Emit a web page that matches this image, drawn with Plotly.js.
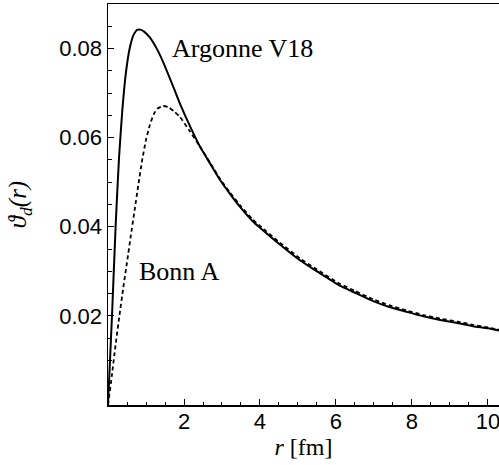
<!DOCTYPE html>
<html>
<head>
<meta charset="utf-8">
<script src="https://cdn.plot.ly/plotly-3.0.1.min.js"></script>
<style>
html,body{margin:0;padding:0;background:#fff;overflow:hidden;}
#chart{width:499px;height:465px;}
</style>
</head>
<body>
<div id="chart"></div>
<script>
// Argonne V18 (solid)
var rArgonne = [0, 0.05, 0.11, 0.2, 0.29, 0.38, 0.47, 0.57, 0.67, 0.77, 0.87, 0.95, 1.1, 1.3, 1.46, 1.7, 1.89, 2.2, 2.42, 2.7, 2.95, 3.2, 3.47, 3.8, 4.0, 4.5, 5.05, 5.5, 6.1, 6.5, 6.98, 7.4, 7.86, 8.3, 8.74, 9.2, 9.61, 10.0, 10.35];
var vArgonne = [0, 0.0095, 0.0210, 0.0400, 0.0555, 0.0665, 0.0745, 0.0800, 0.0830, 0.0842, 0.0842, 0.0838, 0.0825, 0.0797, 0.0768, 0.0718, 0.0677, 0.0618, 0.0580, 0.0540, 0.0505, 0.0475, 0.0445, 0.0413, 0.0398, 0.0362, 0.0325, 0.0300, 0.0268, 0.0252, 0.0233, 0.0220, 0.0209, 0.0199, 0.0191, 0.0184, 0.0177, 0.0172, 0.0166];
// Bonn A (dashed)
var rBonn = [0, 0.1, 0.2, 0.3, 0.4, 0.5, 0.6, 0.7, 0.8, 0.9, 1.0, 1.1, 1.2, 1.3, 1.45, 1.6, 1.75, 1.89, 2.15, 2.42, 2.7, 2.95, 3.2, 3.47, 3.8, 4.0, 4.5, 5.05, 5.5, 6.1, 6.5, 6.98, 7.4, 7.86, 8.3, 8.74, 9.2, 9.61, 10.0, 10.35];
var vBonn = [0, 0.0065, 0.0135, 0.0200, 0.0262, 0.0320, 0.0380, 0.0437, 0.0495, 0.0550, 0.0595, 0.0628, 0.0652, 0.0665, 0.0671, 0.0668, 0.0658, 0.0647, 0.0615, 0.0580, 0.0542, 0.0507, 0.0478, 0.0449, 0.0417, 0.0402, 0.0366, 0.0329, 0.0304, 0.0272, 0.0256, 0.0237, 0.0224, 0.0212, 0.0202, 0.0194, 0.0187, 0.0180, 0.0174, 0.0168];

var xTicks = [2, 4, 6, 8, 10];
var yTicks = [0.02, 0.04, 0.06, 0.08];
var yTickText = ['0.02', '0.04', '0.06', '0.08'];
var labels = ['Argonne V18', 'Bonn A'];

var traces = [
  {x: rArgonne, y: vArgonne, mode: 'lines', name: labels[0],
   line: {color: '#000', width: 2, shape: 'spline', smoothing: 0.5}},
  {x: rBonn, y: vBonn, mode: 'lines', name: labels[1],
   line: {color: '#000', width: 1.8, dash: '4px,3px', shape: 'spline', smoothing: 0.5}}
];

var axisFont = {family: 'Liberation Sans, Arial, sans-serif', size: 22, color: '#000'};
var serif = 'Liberation Serif, Times New Roman, serif';

var layout = {
  width: 499, height: 465,
  margin: {l: 108, r: 0, t: 4, b: 60, pad: 0},
  paper_bgcolor: '#fff', plot_bgcolor: '#fff',
  showlegend: false,
  xaxis: {
    range: [0, 10.29], tickvals: xTicks, ticktext: xTicks.map(String),
    ticks: 'inside', ticklen: 6, tickwidth: 1, tickcolor: '#000',
    minor: {dtick: 0.5, tick0: 0, ticks: 'inside', ticklen: 3.5, tickwidth: 1, tickcolor: '#000'},
    showline: true, linecolor: '#000', linewidth: 1.5, mirror: true,
    showgrid: false, zeroline: false, tickfont: axisFont,
    ticklabeloverflow: 'allow', ticklabelstandoff: -4,
    title: {text: '<i>r</i> [fm]', font: {family: serif, size: 24, color: '#000'}, standoff: 0}
  },
  yaxis: {
    range: [0, 0.09], tickvals: yTicks, ticktext: yTickText,
    ticks: 'inside', ticklen: 6, tickwidth: 1, tickcolor: '#000',
    minor: {dtick: 0.005, tick0: 0, ticks: 'inside', ticklen: 3.5, tickwidth: 1, tickcolor: '#000'},
    showline: true, linecolor: '#000', linewidth: 1.5, mirror: false,
    showgrid: false, zeroline: false, tickfont: axisFont,
    title: {text: '<i>ϑ<sub>d</sub>(r)</i>', font: {family: serif, size: 25, color: '#000'}, standoff: 25}
  },
  annotations: [
    {text: labels[0], xref: 'paper', yref: 'paper', x: 0.1586, y: 0.890,
     xanchor: 'left', yanchor: 'middle', showarrow: false,
     font: {family: serif, size: 26, color: '#000'}},
    {text: labels[1], xref: 'paper', yref: 'paper', x: 0.074, y: 0.332,
     xanchor: 'left', yanchor: 'middle', showarrow: false,
     font: {family: serif, size: 26, color: '#000'}}
  ]
};

Plotly.newPlot('chart', traces, layout, {staticPlot: true, displayModeBar: false});
</script>
</body>
</html>
